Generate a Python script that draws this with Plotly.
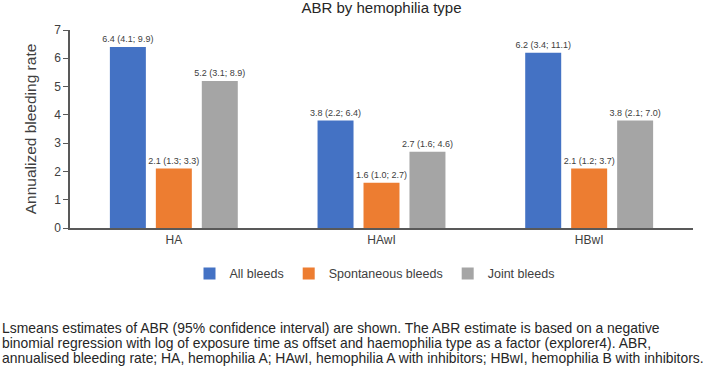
import plotly.graph_objects as go

categories = ["HA", "HAwI", "HBwI"]
series_names = ["All bleeds", "Spontaneous bleeds", "Joint bleeds"]
all_bleeds = [6.4, 3.8, 6.2]
all_lo = [4.1, 2.2, 3.4]
all_hi = [9.9, 6.4, 11.1]
spont_bleeds = [2.1, 1.6, 2.1]
spont_lo = [1.3, 1.0, 1.2]
spont_hi = [3.3, 2.7, 3.7]
joint_bleeds = [5.2, 2.7, 3.8]
joint_lo = [3.1, 1.6, 2.1]
joint_hi = [8.9, 4.6, 7.0]
y_ticks = [0, 1, 2, 3, 4, 5, 6, 7]
colors = ["#4472C4", "#ED7D31", "#A5A5A5"]

caption_lines = [
    "Lsmeans estimates of ABR (95% confidence interval) are shown. The ABR estimate is based on a negative",
    "binomial regression with log of exposure time as offset and haemophilia type as a factor (explorer4). ABR,",
    "annualised bleeding rate; HA, hemophilia A; HAwI, hemophilia A with inhibitors; HBwI, hemophilia B with inhibitors.",
]

FONT = "Arial, Liberation Sans, Helvetica, sans-serif"

fig = go.Figure()
for name, vals, lo, hi, col in zip(series_names,
                                   [all_bleeds, spont_bleeds, joint_bleeds],
                                   [all_lo, spont_lo, joint_lo],
                                   [all_hi, spont_hi, joint_hi],
                                   colors):
    labels = [f"{v:.1f} ({l:.1f}; {h:.1f})" for v, l, h in zip(vals, lo, hi)]
    fig.add_trace(go.Bar(
        x=categories, y=vals, name=name,
        marker=dict(color=col, line=dict(width=0)),
        text=labels, textposition="outside", constraintext="none",
        textfont=dict(size=9, color="#404040", family=FONT),
        cliponaxis=False,
    ))

fig.update_layout(
    width=709, height=368,
    margin=dict(l=70, r=16, t=30, b=140),
    paper_bgcolor="white", plot_bgcolor="white",
    font=dict(family=FONT, color="#404040", size=12),
    barmode="group", bargap=0.336, bargroupgap=0.217,
    title=dict(text="ABR by hemophilia type", x=0.5, xref="paper", xanchor="center",
               y=1 - 8 / 368, yanchor="middle",
               font=dict(size=15, color="#262626", family=FONT)),
    showlegend=True,
    legend=dict(orientation="h", x=0.5 - 7 / 623, xanchor="center", y=-0.232, yanchor="middle",
                font=dict(size=12.5, color="#404040", family=FONT),
                traceorder="normal", itemclick=False),
    xaxis=dict(showline=True, linecolor="#595959", linewidth=1.5, ticks="",
               tickfont=dict(size=12, color="#404040"), showgrid=False),
    yaxis=dict(range=[0, 7], tickvals=y_ticks, showline=True, linecolor="#595959", linewidth=1.5,
               ticks="outside", ticklen=5, tickcolor="#595959", showgrid=False, zeroline=False,
               tickfont=dict(size=12, color="#404040"),
               title=dict(text="Annualized bleeding rate", font=dict(size=15.5, color="#404040"), standoff=14)),
)

line_centers = [328, 343, 358]
for line, yc in zip(caption_lines, line_centers):
    fig.add_annotation(text=line, xref="paper", yref="paper", x=-70 / 623, y=(228 - yc) / 198,
                       xanchor="left", yanchor="middle", align="left", showarrow=False,
                       font=dict(size=13.9, color="#262626", family=FONT))

fig.write_html("out.html", config={"displayModeBar": False},
               post_script="document.body.style.margin='0';")
